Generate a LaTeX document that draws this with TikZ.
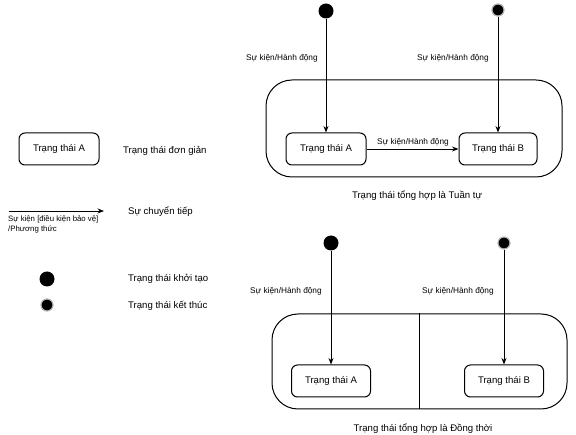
\documentclass[tikz,border=0pt]{standalone}
\usepackage{fontspec}
\setmainfont{Liberation Sans}
\usetikzlibrary{arrows.meta}
\begin{document}
\begin{tikzpicture}[x=1pt,y=-1pt,
  txt/.style={font=\fontsize{9.6}{11}\selectfont, inner sep=0pt},
  lbl/.style={font=\fontsize{8.3}{10}\selectfont, inner sep=0pt},
  small/.style={font=\fontsize{7.8}{10}\selectfont, inner sep=0pt, align=left},
  statebox/.style={draw, line width=1pt, rounded corners=6pt, minimum width=80pt, minimum height=32pt, font=\fontsize{9.6}{11}\selectfont, inner sep=0pt},
  compbox/.style={draw, line width=1pt, rounded corners=26pt, inner sep=0pt},
  initst/.style={circle, fill=black, minimum size=15pt, inner sep=0pt},
  finalst/.style={circle, fill=black, draw=black!30, line width=1.2pt, minimum size=12pt, inner sep=0pt},
  arr/.style={line width=0.9pt, -{Stealth[length=6.5pt,width=5pt]}}
]
\useasboundingbox (0,0) rectangle (576,435);

% ---------- Legend ----------
\node[statebox] (legA) at (59,149) {Trạng thái A};
\node[txt, anchor=west] (legAtxt) at (123,151) {Trạng thái đơn giản};

\coordinate (legS) at (9,211);
\coordinate (legE) at (104,211);
\draw[arr] (legS) -- (legE);
\node[small, anchor=north west] (legTr) at (8,215) {Sự kiện [điều kiện bảo vệ]\\/Phương thức};
\node[txt, anchor=west] (legTrtxt) at (128,212) {Sự chuyển tiếp};

\node[initst] (legI) at (47,279) {};
\node[txt, anchor=west] (legItxt) at (128,279) {Trạng thái khởi tạo};
\node[finalst] (legF) at (47,305) {};
\node[txt, anchor=west] (legFtxt) at (128,306) {Trạng thái kết thúc};

% ---------- Sequential composite ----------
\node[compbox, minimum width=296pt, minimum height=97pt] (comp1) at (414,128.5) {};
\node[statebox] (sA1) at (326,149) {Trạng thái A};
\node[statebox, minimum width=78pt] (sB1) at (498,149) {Trạng thái B};
\node[initst] (i1) at (326,11) {};
\node[finalst] (f1) at (498,10) {};
\draw[arr] (i1) -- (sA1);
\draw[arr] (f1) -- (sB1);
\draw[arr] (sA1) -- (sB1);
\node[lbl, anchor=west] (l1) at (246,58) {Sự kiện/Hành động};
\node[lbl, anchor=west] (l2) at (417,58) {Sự kiện/Hành động};
\node[lbl] (l3) at (413,142) {Sự kiện/Hành động};
\node[txt] (cap1) at (417,196) {Trạng thái tổng hợp là Tuần tự};

% ---------- Concurrent composite ----------
\node[compbox, minimum width=295pt, minimum height=95pt] (comp2) at (419.5,361.5) {};
\draw[line width=1pt] (comp2.north) -- (comp2.south);
\node[statebox, minimum width=79pt] (sA2) at (331,381) {Trạng thái A};
\node[statebox, minimum width=79pt] (sB2) at (504,381) {Trạng thái B};
\node[initst] (i2) at (331,243) {};
\node[finalst] (f2) at (504,243) {};
\draw[arr] (i2) -- (sA2);
\draw[arr] (f2) -- (sB2);
\node[lbl, anchor=west] (l4) at (250,291) {Sự kiện/Hành động};
\node[lbl, anchor=west] (l5) at (422,291) {Sự kiện/Hành động};
\node[txt] (cap2) at (423,429) {Trạng thái tổng hợp là Đồng thời};
\end{tikzpicture}
\end{document}
